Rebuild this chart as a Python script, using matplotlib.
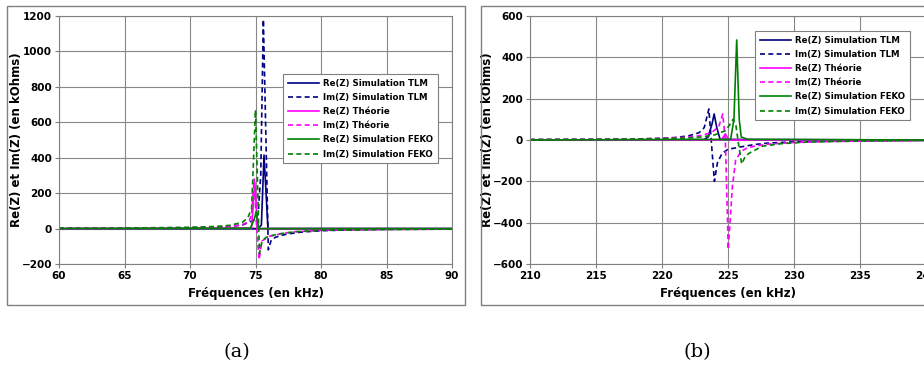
import numpy as np
import matplotlib.pyplot as plt
from matplotlib.patches import Rectangle

# ---- (a) around 75 kHz ----
f_tlm_re_a = [60, 75.2, 75.45, 75.65, 75.95, 90]
v_tlm_re_a = [0, 0, 20, 415, 0, 0]
f_tlm_im_a = [60, 65, 70, 72, 73, 74, 74.8, 75.2, 75.4, 75.6, 75.98, 76.2, 76.5, 77, 77.5, 78.5, 80, 82, 85, 90]
v_tlm_im_a = [1, 2, 4, 8, 12, 20, 45, 80, 300, 1180, -120, -65, -50, -38, -30, -20, -12, -8, -5, -3]
f_th_re_a = [60, 74.7, 74.95, 75.15, 90]
v_th_re_a = [0, 3, 260, 0, 0]
f_th_im_a = [60, 70, 73, 74, 74.5, 74.7, 74.9, 75.05, 75.27, 75.5, 76, 77, 78, 80, 85, 90]
v_th_im_a = [1, 5, 12, 22, 40, 80, 280, 50, -175, -70, -45, -28, -18, -10, -5, -3]
f_fk_re_a = [60, 74.6, 74.9, 75.05, 75.25, 90]
v_fk_re_a = [0, 2, 50, 95, 0, 0]
f_fk_im_a = [60, 65, 70, 72, 73, 74, 74.4, 74.7, 75.0, 75.3, 75.5, 75.8, 76.2, 77, 78, 80, 85, 90]
v_fk_im_a = [2, 3, 7, 12, 18, 35, 60, 110, 670, -140, -70, -50, -40, -28, -18, -10, -5, -3]

# ---- (b) around 225 kHz ----
f_tlm_re_b = [210, 223.2, 223.5, 223.8, 223.95, 224.15, 224.4, 240]
v_tlm_re_b = [0, 2, 15, 80, 126, 60, 3, 0]
f_tlm_im_b = [210, 215, 218, 220, 221, 222, 222.8, 223.2, 223.55, 223.75, 223.97, 224.2, 224.55, 225, 226.1, 227, 228, 230, 232, 235, 240]
v_tlm_im_b = [2, 3, 5, 8, 12, 20, 35, 60, 150, -20, -200, -110, -65, -45, -32, -22, -15, -9, -6, -4, -2]
f_th_re_b = [210, 224.5, 224.8, 225.05, 240]
v_th_re_b = [0, 0, 30, 0, 0]
f_th_im_b = [210, 215, 218, 220, 222, 223, 223.8, 224.3, 224.6, 224.8, 225.02, 225.33, 225.58, 226, 226.4, 227, 228, 230, 233, 240]
v_th_im_b = [2, 3, 5, 8, 14, 22, 38, 65, 126, 0, -529, -226, -97, -55, -40, -30, -20, -12, -7, -3]
f_fk_re_b = [210, 225.2, 225.45, 225.66, 225.85, 226.0, 226.5, 240]
v_fk_re_b = [0, 3, 100, 484, 100, 15, 3, 0]
f_fk_im_b = [210, 215, 220, 222, 223, 224, 224.8, 225.2, 225.38, 225.6, 225.8, 226.04, 226.3, 226.6, 227.6, 229, 231, 235, 240]
v_fk_im_b = [2, 3, 6, 10, 15, 25, 45, 80, 100, 70, -20, -116, -80, -64, -30, -18, -10, -5, -2]

labels = ["Re(Z) Simulation TLM", "Im(Z) Simulation TLM", "Re(Z) Théorie",
          "Im(Z) Théorie", "Re(Z) Simulation FEKO", "Im(Z) Simulation FEKO"]
colors = ["#000080", "#000080", "#ff00ff", "#ff00ff", "#008000", "#008000"]
styles = ["-", "--", "-", "--", "-", "--"]

fig = plt.figure(figsize=(9.24, 3.69), dpi=100)

# chart area frames
fig.patches.append(Rectangle((7 / 924, 1 - 305 / 369), 458 / 924, 299 / 369,
                             transform=fig.transFigure, fill=False,
                             edgecolor="#808080", lw=1))
fig.patches.append(Rectangle((481 / 924, 1 - 305 / 369), 460 / 924, 299 / 369,
                             transform=fig.transFigure, fill=False,
                             edgecolor="#808080", lw=1))


def draw(ax, series, xlim, ylim, yticks, legend_anchor):
    for (f, v), lab, c, s in zip(series, labels, colors, styles):
        if s == "--":
            ax.plot(f, v, color=c, lw=1.2, dashes=(3, 2), label=lab)
        else:
            ax.plot(f, v, color=c, lw=1.2, label=lab)
    ax.set_xlim(xlim)
    ax.set_ylim(ylim)
    ax.set_xticks(np.arange(xlim[0], xlim[1] + 1, 5))
    ax.set_yticks(yticks)
    ax.grid(color="#888888", lw=0.8)
    ax.set_axisbelow(True)
    for sp in ax.spines.values():
        sp.set_color("#808080")
    ax.tick_params(length=3, color="#808080", labelsize=7.5, pad=2)
    for t in ax.get_xticklabels() + ax.get_yticklabels():
        t.set_fontweight("bold")
    ax.set_xlabel("Fréquences (en kHz)", fontsize=8.5, fontweight="bold", labelpad=4)
    ax.set_ylabel("Re(Z) et Im(Z) (en kOhms)", fontsize=8.5, fontweight="bold", labelpad=-1)
    leg = ax.legend(loc="upper left", bbox_to_anchor=legend_anchor,
                    prop={"weight": "bold", "size": 6.2},
                    frameon=True, fancybox=False, framealpha=1,
                    edgecolor="#808080", handlelength=3.6, labelspacing=0.6,
                    borderpad=0.55, handletextpad=0.5, borderaxespad=0)
    leg.get_frame().set_linewidth(0.8)


ax1 = fig.add_axes([59 / 924, 1 - 264 / 369, 393 / 924, 248 / 369])
draw(ax1,
     [(f_tlm_re_a, v_tlm_re_a), (f_tlm_im_a, v_tlm_im_a), (f_th_re_a, v_th_re_a),
      (f_th_im_a, v_th_im_a), (f_fk_re_a, v_fk_re_a), (f_fk_im_a, v_fk_im_a)],
     (60, 90), (-200, 1200), np.arange(-200, 1201, 200),
     ((283 - 59) / 393, (264 - 74) / 248))

ax2 = fig.add_axes([530 / 924, 1 - 264 / 369, 396 / 924, 248 / 369])
draw(ax2,
     [(f_tlm_re_b, v_tlm_re_b), (f_tlm_im_b, v_tlm_im_b), (f_th_re_b, v_th_re_b),
      (f_th_im_b, v_th_im_b), (f_fk_re_b, v_fk_re_b), (f_fk_im_b, v_fk_im_b)],
     (210, 240), (-600, 600), np.arange(-600, 601, 200),
     ((755 - 530) / 396, (264 - 31) / 248))

fig.text(237 / 924, 1 - 352 / 369, "(a)", ha="center", va="center",
         fontsize=14, family="DejaVu Serif")
fig.text(697 / 924, 1 - 352 / 369, "(b)", ha="center", va="center",
         fontsize=14, family="DejaVu Serif")

fig.savefig("out.png", dpi=100)
